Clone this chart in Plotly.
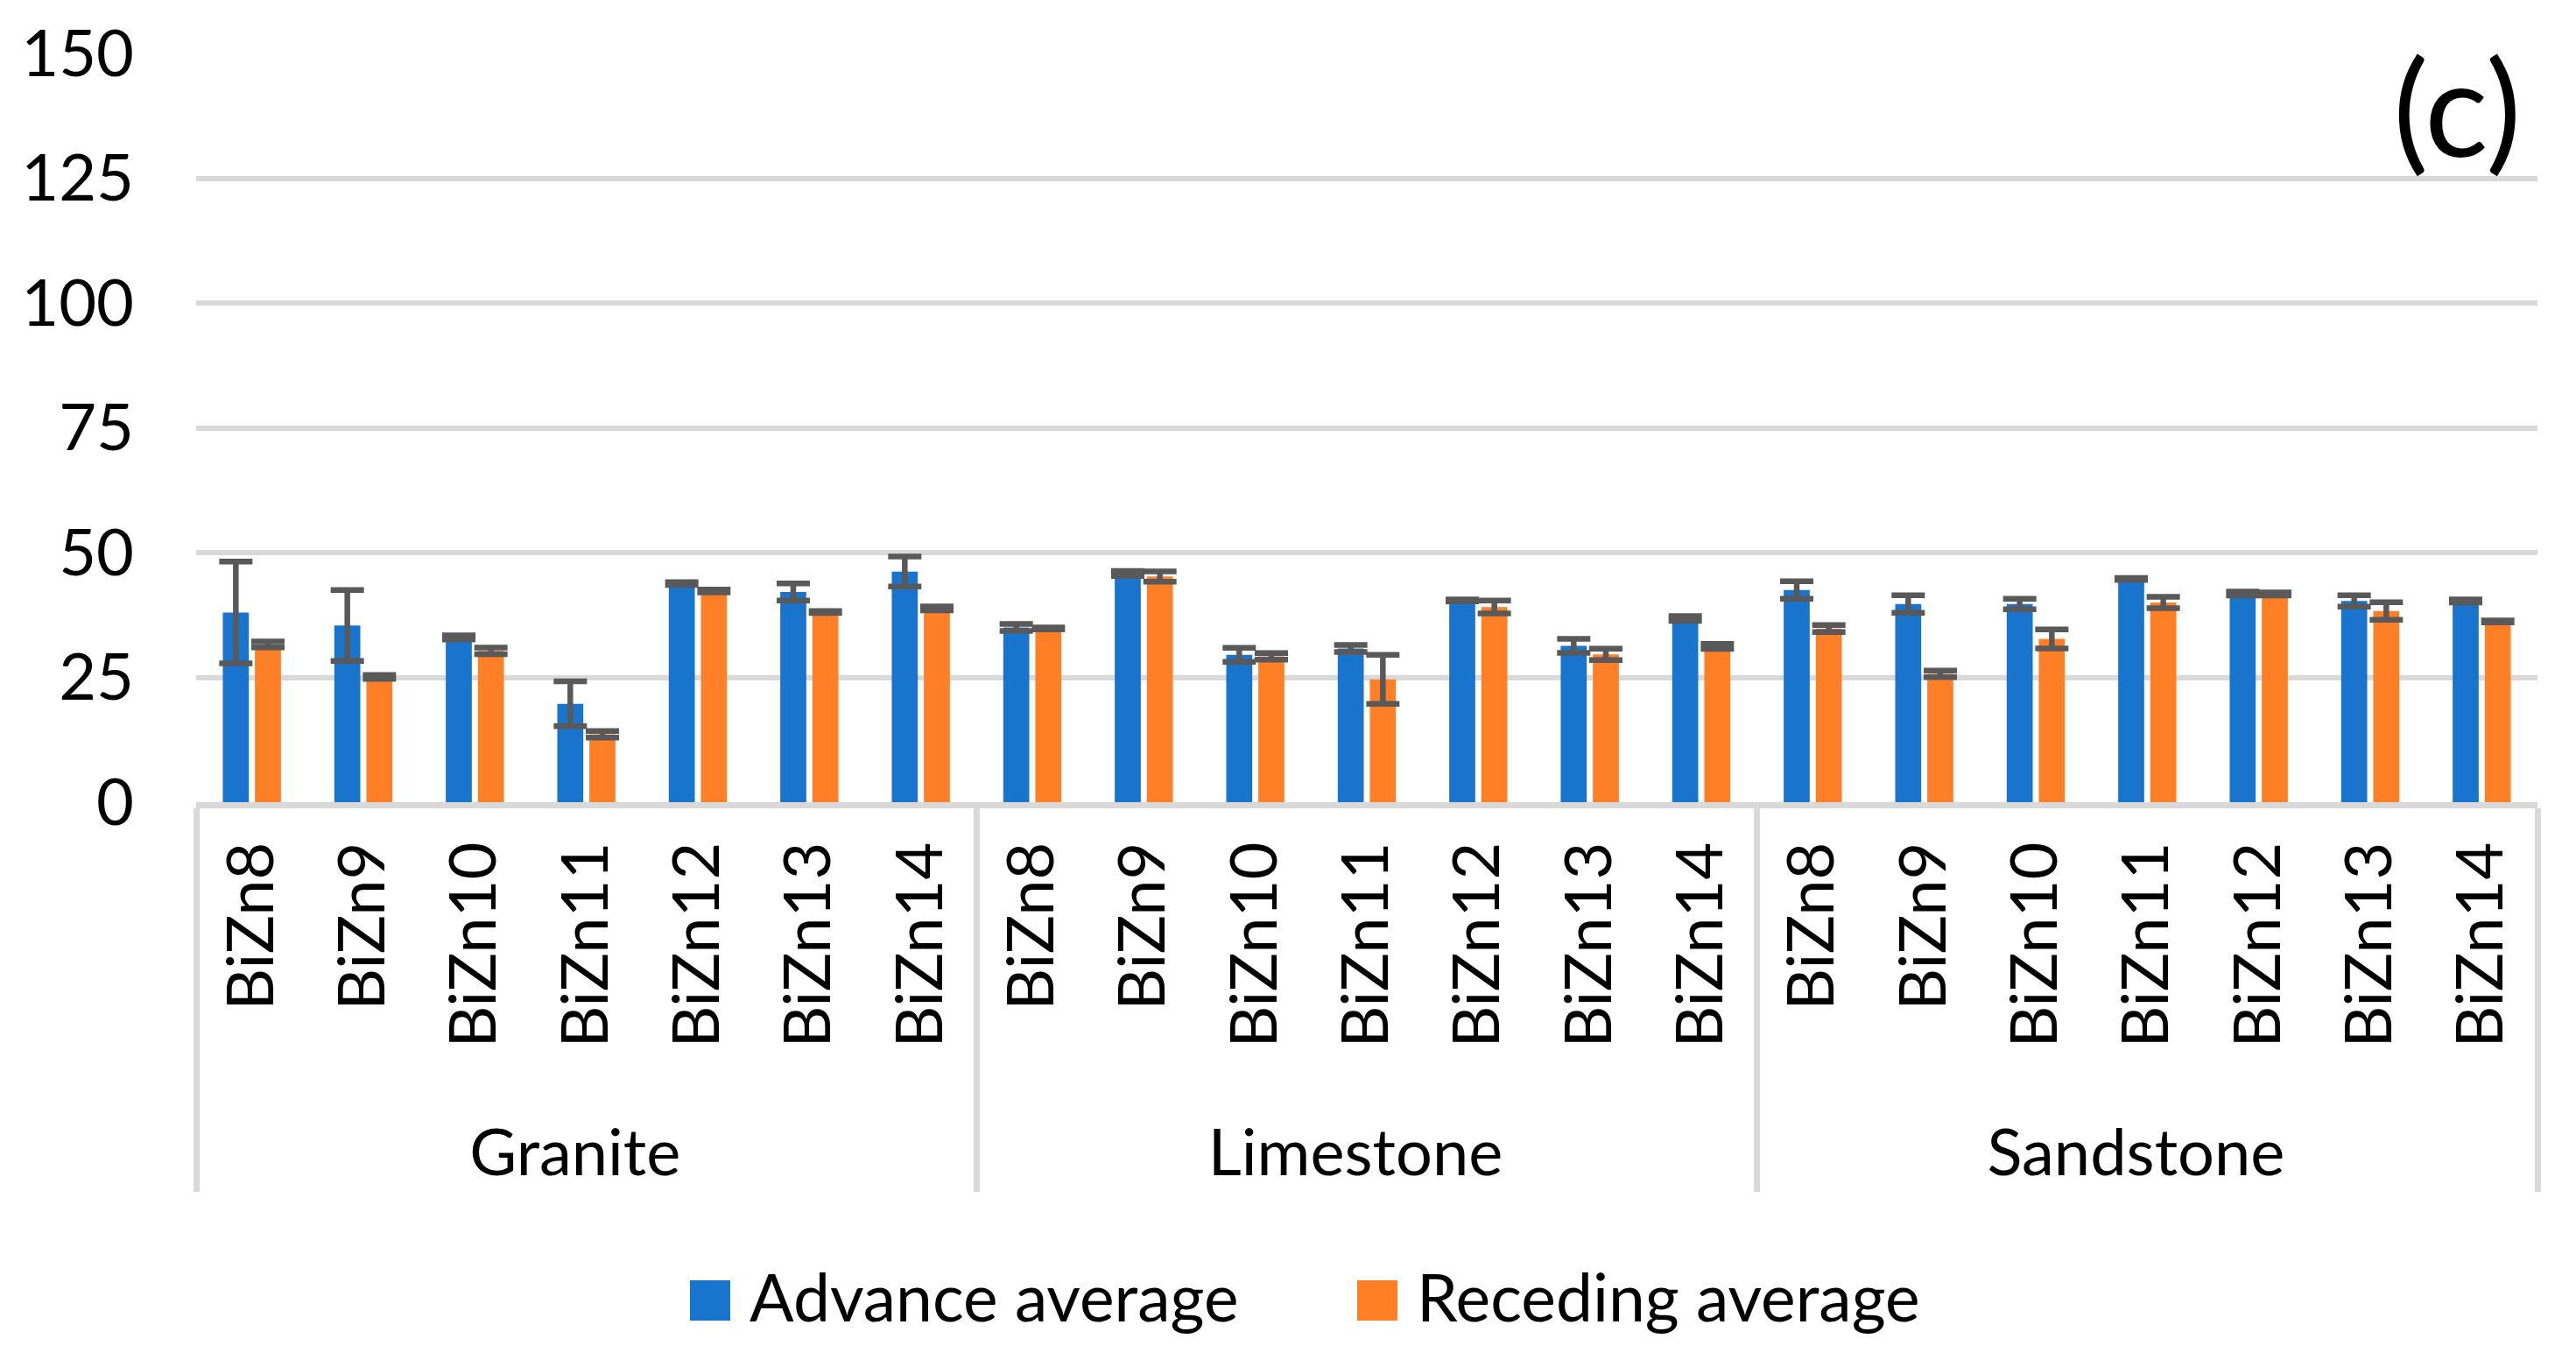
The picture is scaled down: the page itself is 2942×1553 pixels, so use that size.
import plotly.graph_objects as go

# ---------------- data ----------------
stones = ["Granite", "Limestone", "Sandstone"]
alloys = ["BiZn8", "BiZn9", "BiZn10", "BiZn11", "BiZn12", "BiZn13", "BiZn14"]

advance_avg = [38.0, 35.4, 33.0, 19.7, 43.8, 42.1, 46.2,
               35.0, 45.8, 29.5, 30.8, 40.4, 31.3, 36.8,
               42.5, 39.7, 39.7, 44.7, 41.8, 40.3, 40.3]
advance_err = [10.2, 7.1, 0.4, 4.5, 0.3, 1.7, 3.0,
               0.7, 0.5, 1.4, 0.7, 0.2, 1.4, 0.5,
               1.75, 1.75, 1.05, 0.2, 0.4, 1.15, 0.3]
receding_avg = [31.6, 25.1, 30.3, 13.6, 42.3, 38.1, 38.8,
                34.8, 45.2, 29.2, 24.6, 39.1, 29.6, 31.2,
                34.8, 25.7, 32.7, 40.0, 41.7, 38.3, 36.2]
receding_err = [0.6, 0.4, 0.65, 0.65, 0.3, 0.2, 0.4,
                0.2, 1.05, 0.65, 4.9, 1.3, 1.15, 0.5,
                0.7, 0.65, 1.9, 1.15, 0.3, 1.75, 0.2]

y_ticks = [0, 25, 50, 75, 100, 125, 150]
series_names = ["Advance average", "Receding average"]
panel_label = "(c)"

# ---------------- style ----------------
BLUE = "#1874CD"
ORANGE = "#FF7F27"
GRID = "#D9D9D9"
ERR = "#595959"
FONT = "Lato"
PAD = "\u00a0"  # invisible lead-in: pushes the group row down like the original

x_levels = [[s for s in stones for _ in alloys], [PAD + a for _ in stones for a in alloys]]

fig = go.Figure()
for name, vals, errs, col in [
    (series_names[0], advance_avg, advance_err, BLUE),
    (series_names[1], receding_avg, receding_err, ORANGE),
]:
    fig.add_trace(go.Bar(
        x=x_levels, y=vals, name=name, marker_color=col, marker_line_width=0,
        showlegend=False,
        error_y=dict(type="data", array=errs, visible=True, color=ERR,
                     thickness=6.5, width=19),
    ))

W, H = 2942, 1553
L, R, T, B = 224, 44, 61, 637
pw, ph = W - L - R, H - T - B


def px(xpix):
    return (xpix - L) / pw


def py(ypix):
    return (H - B - ypix) / ph


fig.update_layout(
    width=W, height=H,
    margin=dict(l=L, r=R, t=T, b=B, pad=0),
    paper_bgcolor="white", plot_bgcolor="white",
    barmode="group", bargap=0.424, bargroupgap=0.19,
    font=dict(family=FONT, size=74, color="black"),
    showlegend=False,
    xaxis=dict(
        type="multicategory", tickangle=-90,
        tickfont=dict(family=FONT, size=74, color="black"),
        showline=True, linecolor=GRID, linewidth=7,
        showdividers=True, dividercolor=GRID, dividerwidth=7,
        ticklabelstandoff=9, showgrid=False, zeroline=False,
    ),
    yaxis=dict(
        range=[0, 150], tickvals=y_ticks,
        showgrid=True, gridcolor=GRID, gridwidth=6,
        zeroline=False, showline=False,
        tickfont=dict(family=FONT, size=74, color="black"),
        ticklabelstandoff=70,
    ),
)

# panel label
fig.add_annotation(text=panel_label, xref="paper", yref="paper",
                   x=px(2882), y=py(120), xanchor="right", yanchor="middle",
                   showarrow=False, font=dict(family=FONT, size=152, color="black"))

# manual legend (large square swatches)
legend_items = [(series_names[0], BLUE, 788), (series_names[1], ORANGE, 1550)]
for name, col, x0 in legend_items:
    fig.add_shape(type="rect", xref="paper", yref="paper",
                  x0=px(x0), x1=px(x0 + 46), y0=py(1508), y1=py(1462),
                  fillcolor=col, line_width=0)
    fig.add_annotation(text=name, xref="paper", yref="paper",
                       x=px(x0 + 66), y=py(1480), xanchor="left", yanchor="middle",
                       showarrow=False, font=dict(family=FONT, size=75, color="black"))

fig.write_html("out.html", config={"displayModeBar": False},
               post_script="document.body.style.margin='0';document.body.style.overflow='hidden';")
